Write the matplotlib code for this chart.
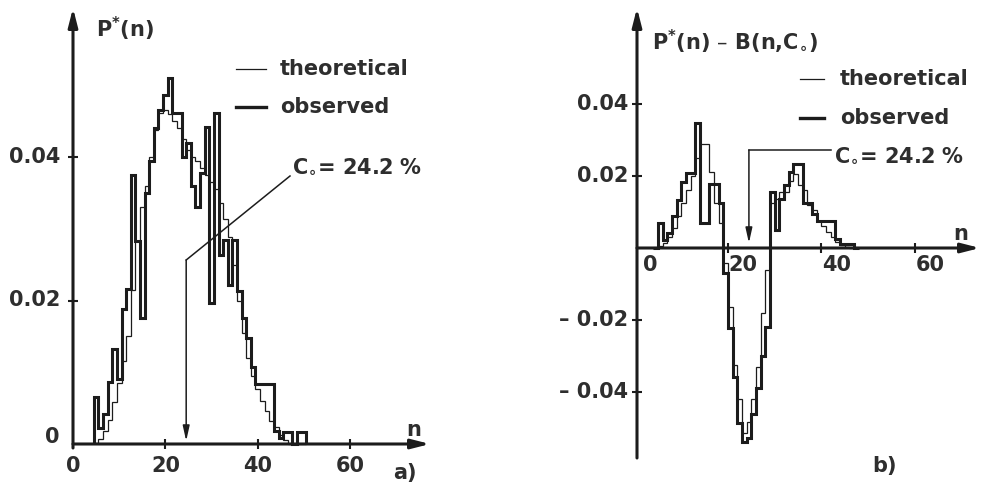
import numpy as np
import matplotlib
matplotlib.use('Agg')
import matplotlib.pyplot as plt

plt.rcParams['font.family'] = ['DejaVu Sans']
plt.rcParams['mathtext.default'] = 'regular'

INK = '#1c1c1c'
TXT = '#2e2e2e'

# panel a): P*(n), bins centred on integer n
left_n = list(range(5, 51))
left_observed = [0.0065, 0.0022, 0.0042, 0.0087, 0.0132, 0.0090, 0.0188, 0.0216, 0.0375, 0.0283,
                 0.0176, 0.0350, 0.0395, 0.0440, 0.0466, 0.0487, 0.0510, 0.0462, 0.0462, 0.0400,
                 0.0420, 0.0360, 0.0330, 0.0378, 0.0442, 0.0197, 0.0462, 0.0264, 0.0285, 0.0222,
                 0.0285, 0.0213, 0.0176, 0.0148, 0.0107, 0.0084, 0.0084, 0.0084, 0.0084, 0.0018,
                 0.0008, 0.0017, 0.0017, 0.0, 0.0017, 0.0017]
left_theoretical = [0.0002, 0.0007, 0.0018, 0.0034, 0.0058, 0.0085, 0.0115, 0.0150, 0.0215, 0.0283,
                    0.0330, 0.0360, 0.0400, 0.0438, 0.0462, 0.0466, 0.0460, 0.0450, 0.0440, 0.0425,
                    0.0410, 0.0400, 0.0395, 0.0385, 0.0375, 0.0365, 0.0355, 0.0336, 0.0313, 0.0288,
                    0.0250, 0.0200, 0.0155, 0.0120, 0.0095, 0.0076, 0.0060, 0.0046, 0.0032, 0.0023,
                    0.0013, 0.0005, 0.0, 0.0, 0.0, 0.0]
left_xticks = [0, 20, 40, 60]
left_yticks = [0.0, 0.02, 0.04]
left_yticklabels = ['0', '0.02', '0.04']

# panel b): P*(n) - B(n, C0), bins [n, n+1)
right_n = list(range(4, 48))
right_observed = [0.0, 0.0069, 0.0022, 0.0042, 0.0088, 0.0133, 0.0184, 0.0207, 0.0207, 0.0348,
                  0.0070, 0.0070, 0.0177, 0.0177, 0.0124, -0.0070, -0.0223, -0.0357, -0.0487, -0.0538,
                  -0.0529, -0.0460, -0.0390, -0.0300, -0.0220, 0.0156, 0.0050, 0.0135, 0.0175, 0.0210,
                  0.0232, 0.0232, 0.0125, 0.0125, 0.0095, 0.0074, 0.0074, 0.0074, 0.0074, 0.0025,
                  0.0010, 0.0012, 0.0012, 0.0]
right_theoretical = [0.0, 0.0005, 0.0015, 0.0030, 0.0055, 0.0090, 0.0125, 0.0160, 0.0200, 0.0250,
                     0.0290, 0.0290, 0.0212, 0.0124, 0.0069, -0.0043, -0.0163, -0.0325, -0.0420, -0.0515,
                     -0.0482, -0.0420, -0.0330, -0.0180, -0.0060, 0.0125, 0.0135, 0.0155, 0.0155, 0.0185,
                     0.0205, 0.0175, 0.0160, 0.0120, 0.0105, 0.0075, 0.0060, 0.0045, 0.0030, 0.0018,
                     0.0008, 0.0003, 0.0, 0.0]
right_xticks = [20, 40, 60]
right_yticks = [0.04, 0.02, -0.02, -0.04]
right_yticklabels = ['0.04', '0.02', '\u2013 0.02', '\u2013 0.04']

C0 = 24.5
C0_LABEL = 'C$_{\\circ}$= 24.2 %'

W, H = 987, 487
fig = plt.figure(figsize=(W / 100, H / 100), dpi=100)


def panel(px0, px1, x_origin, x_scale, y_origin, y_scale):
    """axes covering figure pixels px0..px1 (full height), data mapped to pixel positions"""
    ax = fig.add_axes([px0 / W, 0, (px1 - px0) / W, 1])
    ax.set_xlim((px0 - x_origin) / x_scale, (px1 - x_origin) / x_scale)
    ax.set_ylim((y_origin - H) / y_scale, y_origin / y_scale)
    ax.axis('off')
    return ax


def px(ax, x, y):
    """pixel -> data for text placement"""
    inv = ax.transData.inverted()
    return inv.transform(fig.transFigure.transform((x / W, 1 - y / H)))


def arrow_axis(ax, start, end, lw=2.2):
    ax.annotate('', xy=end, xytext=start,
                arrowprops=dict(arrowstyle='-|>,head_length=1.1,head_width=0.28',
                                lw=lw, color=INK, shrinkA=0, shrinkB=0))


tfont = dict(fontsize=15, fontweight='bold', color=TXT)

# ---------------- panel a)
ax1 = panel(0, 480, 73, 4.62, 444, 7175)
edges = np.array(left_n + [left_n[-1] + 1]) - 0.5
ax1.stairs(left_theoretical, edges, baseline=0, color=INK, lw=0.9)
ax1.stairs(left_observed, edges, baseline=0, color=INK, lw=2.2)

arrow_axis(ax1, px(ax1, 73, 448), px(ax1, 73, 8))
arrow_axis(ax1, px(ax1, 73, 444), px(ax1, 430, 444))
ax1.plot(left_xticks[1:], [0] * 3, ls='none', marker='|', ms=7, mew=1.5, color=INK)
ax1.plot([0, 0], left_yticks[1:], ls='none', marker='_', ms=7, mew=1.5, color=INK)
for t in left_xticks:
    ax1.text(t, px(ax1, 0, 466)[1], str(t), ha='center', va='center', **tfont)
for t, lab in zip(left_yticks, left_yticklabels):
    x = px(ax1, 60, 0)[0]
    y = px(ax1, 0, 437)[1] if t == 0 else t
    ax1.text(x, y, lab, ha='right', va='center', **tfont)

ax1.text(*px(ax1, 96, 29), 'P$^{*}$(n)', ha='left', va='center', **tfont)
ax1.text(*px(ax1, 414, 430), 'n', ha='center', va='center', **tfont)
ax1.text(*px(ax1, 405, 473), 'a)', ha='center', va='center', **tfont)

# legend
for yy, lw, lab in [(69, 0.9, 'theoretical'), (107, 2.4, 'observed')]:
    a, b = px(ax1, 236, yy), px(ax1, 266, yy)
    ax1.plot([a[0], b[0]], [a[1], b[1]], color=INK, lw=lw)
    ax1.text(*px(ax1, 280, yy), lab, ha='left', va='center', **tfont)

# C0 annotation
ax1.text(*px(ax1, 292, 166), C0_LABEL, ha='left', va='center', **tfont)
corner = (C0, px(ax1, 0, 260)[1])
ax1.plot([px(ax1, 290, 176)[0], corner[0]], [px(ax1, 290, 176)[1], corner[1]], color=INK, lw=1.1)
ax1.annotate('', xy=(C0, px(ax1, 0, 441)[1]), xytext=corner,
             arrowprops=dict(arrowstyle='-|>,head_length=0.9,head_width=0.2', lw=1.1,
                             color=INK, shrinkA=0, shrinkB=0))

# ---------------- panel b)
ax2 = panel(480, W, 634.5, 4.67, 248, 3600)
edges = np.array(right_n + [right_n[-1] + 1])
ax2.stairs(right_theoretical, edges, baseline=0, color=INK, lw=0.9)
ax2.stairs(right_observed, edges, baseline=0, color=INK, lw=2.2)

arrow_axis(ax2, px(ax2, 637, 458), px(ax2, 637, 8))
arrow_axis(ax2, px(ax2, 637, 248), px(ax2, 980, 248))
ax2.plot(right_xticks, [0] * 3, ls='none', marker='|', ms=7, mew=1.5, color=INK)
y_axis_n = px(ax2, 637, 0)[0]
ax2.plot([y_axis_n] * 4, right_yticks, ls='none', marker='_', ms=7, mew=1.5, color=INK)
ax2.text(*px(ax2, 643, 265), '0', ha='left', va='center', **tfont)
for t in right_xticks:
    ax2.text(t + 0.2, px(ax2, 0, 265)[1], str(t), ha='left', va='center', **tfont)
for t, lab in zip(right_yticks, right_yticklabels):
    ax2.text(px(ax2, 628, 0)[0], t, lab, ha='right', va='center', **tfont)

ax2.text(*px(ax2, 652, 41), 'P$^{*}$(n) \u2013 B(n,C$_{\\circ}$)', ha='left', va='center', **tfont)
ax2.text(*px(ax2, 961, 234), 'n', ha='center', va='center', **tfont)
ax2.text(*px(ax2, 885, 466), 'b)', ha='center', va='center', **tfont)

for yy, lw, lab in [(79, 0.9, 'theoretical'), (118, 2.4, 'observed')]:
    a, b = px(ax2, 800, yy), px(ax2, 824, yy)
    ax2.plot([a[0], b[0]], [a[1], b[1]], color=INK, lw=lw)
    ax2.text(*px(ax2, 840, yy), lab, ha='left', va='center', **tfont)

ax2.text(*px(ax2, 834, 155), C0_LABEL, ha='left', va='center', **tfont)
corner = (C0, px(ax2, 0, 150)[1])
ax2.plot([px(ax2, 831, 150)[0], corner[0]], [corner[1], corner[1]], color=INK, lw=1.1)
ax2.annotate('', xy=(C0, px(ax2, 0, 243)[1]), xytext=corner,
             arrowprops=dict(arrowstyle='-|>,head_length=0.9,head_width=0.2', lw=1.1,
                             color=INK, shrinkA=0, shrinkB=0))

fig.savefig('out.png', dpi=100, facecolor='white')
